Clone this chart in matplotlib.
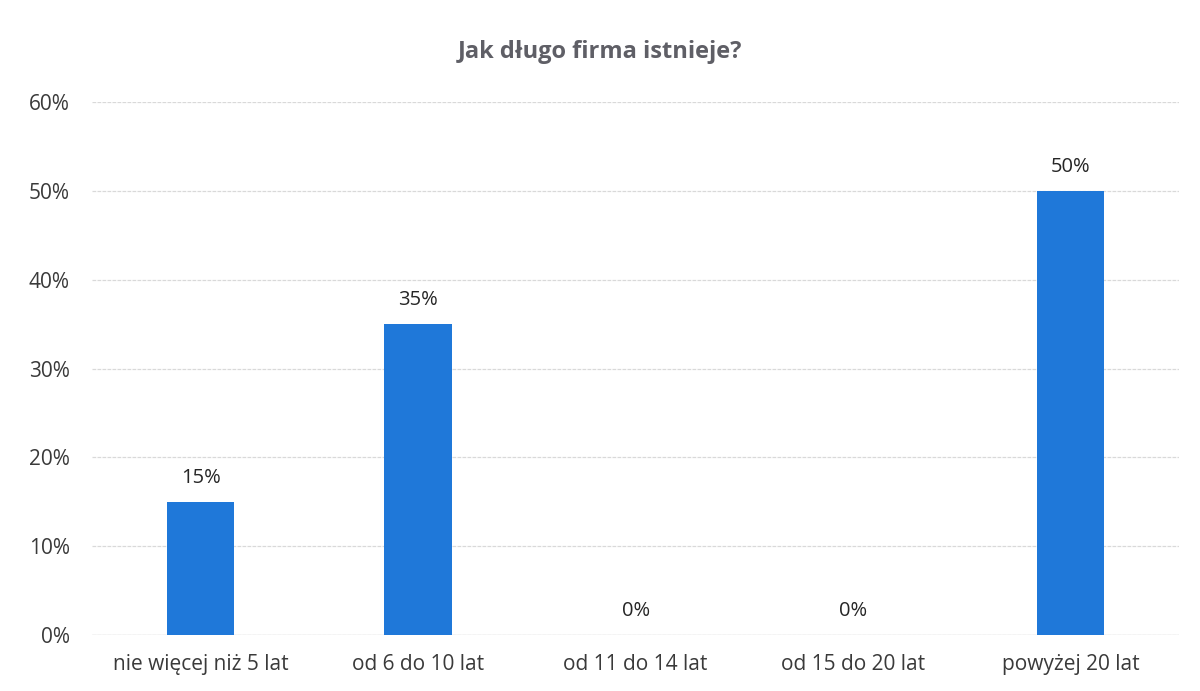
import matplotlib
matplotlib.use("Agg")
import matplotlib.pyplot as plt
from matplotlib.ticker import FuncFormatter

categories = ["nie więcej niż 5 lat", "od 6 do 10 lat", "od 11 do 14 lat", "od 15 do 20 lat", "powyżej 20 lat"]
values = [15, 35, 0, 0, 50]
yticks = [0, 10, 20, 30, 40, 50, 60]
title = "Jak długo firma istnieje?"

plt.rcParams['font.family'] = ['Open Sans', 'DejaVu Sans']

fig = plt.figure(figsize=(12, 6.91), dpi=100)
ax = fig.add_axes([0.0767, 0.081, 0.906, 0.771])

x = list(range(len(categories)))
ax.bar(x, values, width=0.31, color="#1f78d9", zorder=3)
for xi, v in zip(x, values):
    ax.text(xi, v + 1.6, f"{v}%", ha="center", va="bottom", fontsize=14.5, color="#262626")

ax.set_xlim(-0.5, len(categories) - 0.5)
ax.set_ylim(0, 60)
ax.set_yticks(yticks)
ax.yaxis.set_major_formatter(FuncFormatter(lambda v, p: f"{int(v)}%"))
ax.set_xticks(x)
ax.set_xticklabels(categories)
ax.tick_params(axis="both", length=0, labelsize=15, labelcolor="#3a3a3a")
ax.tick_params(axis="y", pad=16)
ax.tick_params(axis="x", pad=14)
ax.grid(axis="y", color="#d9d9d9", linewidth=0.9, linestyle=(0, (3, 1)), zorder=0)
for s in ax.spines.values():
    s.set_visible(False)
ax.axhline(0, color="#d0d0d0", linewidth=0.9, zorder=1)

fig.text(0.5, 0.925, title, ha="center", va="center", fontsize=17, fontweight="bold", color="#5f5f66")

fig.savefig("out.png", dpi=100, facecolor="white")
